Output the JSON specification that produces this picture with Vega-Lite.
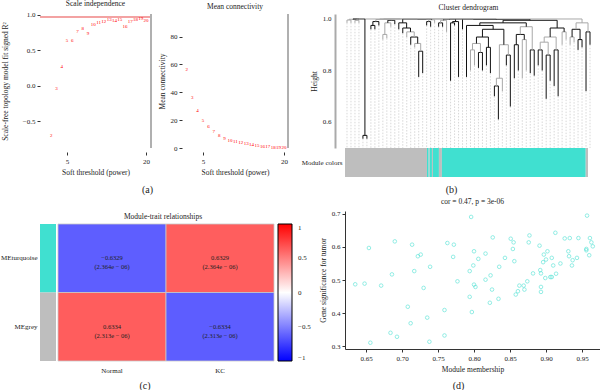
{
  "$schema": "https://vega.github.io/schema/vega-lite/v6.json",
  "padding": {"left": 0, "top": 0, "right": 0, "bottom": 0},
  "background": "white",
  "config": {
    "font": "Liberation Serif",
    "view": {"stroke": null},
    "axis": {"labelFont": "Liberation Serif", "titleFont": "Liberation Serif", "labelFontSize": 7, "titleFontSize": 7.5, "titleFontWeight": "normal", "labelColor": "#222", "titleColor": "#222", "grid": false, "domainColor": "#333", "tickColor": "#333", "tickSize": 3, "labelPadding": 2, "titlePadding": 4},
    "title": {"font": "Liberation Serif", "fontSize": 7.5, "fontWeight": "normal", "color": "#222", "offset": 3},
    "legend": {"labelFont": "Liberation Serif", "labelFontSize": 7, "labelColor": "#222", "labelOverlap": false, "labelSeparation": 0}
  },
  "datasets": {
    "sft": [
      {"power": 2, "fit": -0.70, "k": 57},
      {"power": 3, "fit": -0.03, "k": 37},
      {"power": 4, "fit": 0.28, "k": 27},
      {"power": 5, "fit": 0.65, "k": 20},
      {"power": 6, "fit": 0.64, "k": 15.5},
      {"power": 7, "fit": 0.78, "k": 12.5},
      {"power": 8, "fit": 0.82, "k": 9.5},
      {"power": 9, "fit": 0.75, "k": 7.3},
      {"power": 10, "fit": 0.87, "k": 6},
      {"power": 11, "fit": 0.90, "k": 5},
      {"power": 12, "fit": 0.92, "k": 4.2},
      {"power": 13, "fit": 0.94, "k": 3.3},
      {"power": 14, "fit": 0.93, "k": 2.6},
      {"power": 15, "fit": 0.94, "k": 2},
      {"power": 16, "fit": 0.85, "k": 1.7},
      {"power": 17, "fit": 0.92, "k": 1.3},
      {"power": 18, "fit": 0.95, "k": 1},
      {"power": 19, "fit": 0.96, "k": 0.9},
      {"power": 20, "fit": 0.93, "k": 0.7}
    ],
    "leaves": [
      {"x": 2, "h": 0.985}, {"x": 6, "h": 0.985}, {"x": 10, "h": 0.985}, {"x": 14, "h": 0.985},
      {"x": 18, "h": 0.535}, {"x": 22, "h": 0.535}, {"x": 26, "h": 0.96}, {"x": 30, "h": 0.96},
      {"x": 34, "h": 0.975}, {"x": 38, "h": 0.92}, {"x": 42, "h": 0.925}, {"x": 46, "h": 0.97},
      {"x": 50, "h": 0.98}, {"x": 54, "h": 0.96}, {"x": 58, "h": 0.945}, {"x": 62, "h": 0.93},
      {"x": 66, "h": 0.90}, {"x": 70, "h": 0.89}, {"x": 74, "h": 0.775}, {"x": 78, "h": 0.79},
      {"x": 82, "h": 0.975}, {"x": 86, "h": 0.97}, {"x": 90, "h": 0.985}, {"x": 94, "h": 0.97},
      {"x": 98, "h": 0.97}, {"x": 102, "h": 0.95}, {"x": 106, "h": 0.76}, {"x": 110, "h": 0.975},
      {"x": 114, "h": 0.775}, {"x": 118, "h": 0.96}, {"x": 122, "h": 0.775}, {"x": 126, "h": 0.80},
      {"x": 130, "h": 0.82}, {"x": 134, "h": 0.81}, {"x": 138, "h": 0.80}, {"x": 142, "h": 0.82},
      {"x": 146, "h": 0.79}, {"x": 150, "h": 0.70}, {"x": 154, "h": 0.61}, {"x": 158, "h": 0.72},
      {"x": 162, "h": 0.82}, {"x": 166, "h": 0.66}, {"x": 170, "h": 0.77}, {"x": 174, "h": 0.80},
      {"x": 178, "h": 0.77}, {"x": 182, "h": 0.80}, {"x": 186, "h": 0.79}, {"x": 190, "h": 0.78},
      {"x": 194, "h": 0.82}, {"x": 198, "h": 0.80}, {"x": 202, "h": 0.69}, {"x": 206, "h": 0.76},
      {"x": 210, "h": 0.74}, {"x": 214, "h": 0.70}, {"x": 218, "h": 0.90}, {"x": 222, "h": 0.92},
      {"x": 226, "h": 0.90}, {"x": 230, "h": 0.91}, {"x": 234, "h": 0.88}, {"x": 238, "h": 0.89},
      {"x": 242, "h": 0.72}, {"x": 246, "h": 0.90}
    ],
    "merges": [
      {"xl": 2, "xr": 6, "h": 0.996, "hl": 0.985, "hr": 0.985, "tone": "g"},
      {"xl": 10, "xr": 14, "h": 0.995, "hl": 0.985, "hr": 0.985, "tone": "g"},
      {"xl": 4, "xr": 12, "h": 0.999, "hl": 0.996, "hr": 0.995, "tone": "g"},
      {"xl": 18, "xr": 22, "h": 0.548, "hl": 0.535, "hr": 0.535, "tone": "k"},
      {"xl": 26, "xr": 30, "h": 0.975, "hl": 0.96, "hr": 0.96, "tone": "k"},
      {"xl": 28, "xr": 34, "h": 0.99, "hl": 0.975, "hr": 0.975, "tone": "k"},
      {"xl": 38, "xr": 42, "h": 0.94, "hl": 0.92, "hr": 0.925, "tone": "g"},
      {"xl": 40, "xr": 46, "h": 0.985, "hl": 0.94, "hr": 0.97, "tone": "g"},
      {"xl": 43, "xr": 50, "h": 0.995, "hl": 0.985, "hr": 0.98, "tone": "k"},
      {"xl": 74, "xr": 78, "h": 0.875, "hl": 0.775, "hr": 0.79, "tone": "k"},
      {"xl": 70, "xr": 76, "h": 0.905, "hl": 0.89, "hr": 0.875, "tone": "g"},
      {"xl": 66, "xr": 73, "h": 0.93, "hl": 0.90, "hr": 0.905, "tone": "k"},
      {"xl": 62, "xr": 69.5, "h": 0.95, "hl": 0.93, "hr": 0.93, "tone": "g"},
      {"xl": 58, "xr": 65.75, "h": 0.965, "hl": 0.945, "hr": 0.95, "tone": "k"},
      {"xl": 54, "xr": 61.875, "h": 0.985, "hl": 0.96, "hr": 0.965, "tone": "k"},
      {"xl": 82, "xr": 86, "h": 0.99, "hl": 0.975, "hr": 0.97, "tone": "k"},
      {"xl": 84, "xr": 90, "h": 0.997, "hl": 0.99, "hr": 0.985, "tone": "g"},
      {"xl": 94, "xr": 98, "h": 0.985, "hl": 0.97, "hr": 0.97, "tone": "k"},
      {"xl": 96, "xr": 102, "h": 0.995, "hl": 0.985, "hr": 0.95, "tone": "g"},
      {"xl": 106, "xr": 110, "h": 0.985, "hl": 0.76, "hr": 0.975, "tone": "k"},
      {"xl": 108, "xr": 114, "h": 0.99, "hl": 0.985, "hr": 0.775, "tone": "k"},
      {"xl": 126, "xr": 130, "h": 0.88, "hl": 0.80, "hr": 0.82, "tone": "g"},
      {"xl": 134, "xr": 138, "h": 0.87, "hl": 0.81, "hr": 0.80, "tone": "k"},
      {"xl": 128, "xr": 136, "h": 0.905, "hl": 0.88, "hr": 0.87, "tone": "g"},
      {"xl": 142, "xr": 146, "h": 0.89, "hl": 0.82, "hr": 0.79, "tone": "k"},
      {"xl": 132, "xr": 144, "h": 0.93, "hl": 0.905, "hr": 0.89, "tone": "k"},
      {"xl": 150, "xr": 154, "h": 0.74, "hl": 0.70, "hr": 0.61, "tone": "k"},
      {"xl": 152, "xr": 158, "h": 0.77, "hl": 0.74, "hr": 0.72, "tone": "g"},
      {"xl": 162, "xr": 166, "h": 0.86, "hl": 0.82, "hr": 0.66, "tone": "k"},
      {"xl": 155, "xr": 164, "h": 0.90, "hl": 0.77, "hr": 0.86, "tone": "g"},
      {"xl": 138, "xr": 159.5, "h": 0.96, "hl": 0.93, "hr": 0.90, "tone": "k"},
      {"xl": 122, "xr": 148.75, "h": 0.975, "hl": 0.775, "hr": 0.96, "tone": "k"},
      {"xl": 170, "xr": 174, "h": 0.90, "hl": 0.77, "hr": 0.80, "tone": "k"},
      {"xl": 178, "xr": 182, "h": 0.92, "hl": 0.77, "hr": 0.80, "tone": "g"},
      {"xl": 172, "xr": 180, "h": 0.94, "hl": 0.90, "hr": 0.92, "tone": "k"},
      {"xl": 186, "xr": 190, "h": 0.88, "hl": 0.79, "hr": 0.78, "tone": "k"},
      {"xl": 176, "xr": 188, "h": 0.97, "hl": 0.94, "hr": 0.88, "tone": "g"},
      {"xl": 135.375, "xr": 182, "h": 0.985, "hl": 0.975, "hr": 0.97, "tone": "k"},
      {"xl": 194, "xr": 198, "h": 0.88, "hl": 0.82, "hr": 0.80, "tone": "k"},
      {"xl": 202, "xr": 206, "h": 0.86, "hl": 0.69, "hr": 0.76, "tone": "k"},
      {"xl": 196, "xr": 204, "h": 0.91, "hl": 0.88, "hr": 0.86, "tone": "g"},
      {"xl": 210, "xr": 214, "h": 0.88, "hl": 0.74, "hr": 0.70, "tone": "k"},
      {"xl": 200, "xr": 212, "h": 0.93, "hl": 0.91, "hr": 0.88, "tone": "g"},
      {"xl": 218, "xr": 222, "h": 0.95, "hl": 0.90, "hr": 0.92, "tone": "g"},
      {"xl": 206, "xr": 220, "h": 0.965, "hl": 0.93, "hr": 0.95, "tone": "k"},
      {"xl": 226, "xr": 230, "h": 0.93, "hl": 0.90, "hr": 0.91, "tone": "g"},
      {"xl": 234, "xr": 238, "h": 0.92, "hl": 0.88, "hr": 0.89, "tone": "k"},
      {"xl": 228, "xr": 236, "h": 0.96, "hl": 0.93, "hr": 0.92, "tone": "k"},
      {"xl": 242, "xr": 246, "h": 0.95, "hl": 0.72, "hr": 0.90, "tone": "k"},
      {"xl": 232, "xr": 244, "h": 0.985, "hl": 0.96, "hr": 0.95, "tone": "g"},
      {"xl": 8, "xr": 20, "h": 1.0, "hl": 0.999, "hr": 0.548, "tone": "k"},
      {"xl": 31, "xr": 46.5, "h": 0.998, "hl": 0.99, "hr": 0.995, "tone": "g"},
      {"xl": 57.94, "xr": 87, "h": 0.999, "hl": 0.985, "hr": 0.997, "tone": "k"},
      {"xl": 38.75, "xr": 72.47, "h": 1.0, "hl": 0.998, "hr": 0.999, "tone": "g"},
      {"xl": 14, "xr": 55.61, "h": 1.0, "hl": 1.0, "hr": 1.0, "tone": "g"},
      {"xl": 99, "xr": 111, "h": 0.998, "hl": 0.995, "hr": 0.99, "tone": "k"},
      {"xl": 158.69, "xr": 213, "h": 0.995, "hl": 0.985, "hr": 0.965, "tone": "k"},
      {"xl": 118, "xr": 185.84, "h": 0.998, "hl": 0.96, "hr": 0.995, "tone": "k"},
      {"xl": 105, "xr": 151.92, "h": 0.999, "hl": 0.998, "hr": 0.998, "tone": "k"},
      {"xl": 34.8, "xr": 128.46, "h": 1.0, "hl": 1.0, "hr": 0.999, "tone": "g"},
      {"xl": 81.63, "xr": 238, "h": 1.0, "hl": 1.0, "hr": 0.985, "tone": "g"}
    ],
    "modules": [
      {"x0": 0, "x1": 82.3, "module": "grey", "track": "Module colors"},
      {"x0": 82.3, "x1": 84, "module": "turquoise", "track": "Module colors"},
      {"x0": 84, "x1": 85, "module": "grey", "track": "Module colors"},
      {"x0": 85, "x1": 87.3, "module": "turquoise", "track": "Module colors"},
      {"x0": 87.3, "x1": 88.3, "module": "grey", "track": "Module colors"},
      {"x0": 88.3, "x1": 94.3, "module": "turquoise", "track": "Module colors"},
      {"x0": 94.3, "x1": 97.3, "module": "grey", "track": "Module colors"},
      {"x0": 97.3, "x1": 241.7, "module": "turquoise", "track": "Module colors"},
      {"x0": 241.7, "x1": 244, "module": "grey", "track": "Module colors"}
    ],
    "eigengenes": [
      {"me": "MEturquoise", "module": "turquoise"},
      {"me": "MEgrey", "module": "grey"}
    ],
    "traitcor": [
      {"me": "MEturquoise", "trait": "Normal", "r": -0.6329, "label": "−0.6329\n(2.364e − 06)"},
      {"me": "MEturquoise", "trait": "KC", "r": 0.6329, "label": "0.6329\n(2.364e − 06)"},
      {"me": "MEgrey", "trait": "Normal", "r": 0.6334, "label": "0.6334\n(2.313e − 06)"},
      {"me": "MEgrey", "trait": "KC", "r": -0.6334, "label": "−0.6334\n(2.313e − 06)"}
    ],
    "mmgs": [
      {"mm": 0.635, "gs": 0.487}, {"mm": 0.648, "gs": 0.489}, {"mm": 0.654, "gs": 0.597}, {"mm": 0.656, "gs": 0.310},
      {"mm": 0.671, "gs": 0.483}, {"mm": 0.684, "gs": 0.340}, {"mm": 0.686, "gs": 0.517}, {"mm": 0.690, "gs": 0.617},
      {"mm": 0.693, "gs": 0.328}, {"mm": 0.708, "gs": 0.419}, {"mm": 0.712, "gs": 0.369}, {"mm": 0.714, "gs": 0.607},
      {"mm": 0.717, "gs": 0.527}, {"mm": 0.722, "gs": 0.572}, {"mm": 0.726, "gs": 0.577}, {"mm": 0.730, "gs": 0.476},
      {"mm": 0.735, "gs": 0.386}, {"mm": 0.738, "gs": 0.313}, {"mm": 0.739, "gs": 0.540}, {"mm": 0.759, "gs": 0.409},
      {"mm": 0.759, "gs": 0.332}, {"mm": 0.763, "gs": 0.612}, {"mm": 0.772, "gs": 0.607}, {"mm": 0.771, "gs": 0.570},
      {"mm": 0.777, "gs": 0.496}, {"mm": 0.794, "gs": 0.527}, {"mm": 0.794, "gs": 0.449}, {"mm": 0.796, "gs": 0.691},
      {"mm": 0.797, "gs": 0.403}, {"mm": 0.799, "gs": 0.544}, {"mm": 0.800, "gs": 0.587}, {"mm": 0.800, "gs": 0.486},
      {"mm": 0.802, "gs": 0.479}, {"mm": 0.806, "gs": 0.564}, {"mm": 0.816, "gs": 0.580}, {"mm": 0.816, "gs": 0.501},
      {"mm": 0.822, "gs": 0.431}, {"mm": 0.823, "gs": 0.514}, {"mm": 0.825, "gs": 0.471}, {"mm": 0.826, "gs": 0.629},
      {"mm": 0.834, "gs": 0.443}, {"mm": 0.835, "gs": 0.540}, {"mm": 0.843, "gs": 0.567}, {"mm": 0.851, "gs": 0.625},
      {"mm": 0.854, "gs": 0.594}, {"mm": 0.855, "gs": 0.614}, {"mm": 0.856, "gs": 0.557}, {"mm": 0.858, "gs": 0.456},
      {"mm": 0.861, "gs": 0.466}, {"mm": 0.863, "gs": 0.483}, {"mm": 0.869, "gs": 0.483}, {"mm": 0.870, "gs": 0.471},
      {"mm": 0.874, "gs": 0.496}, {"mm": 0.876, "gs": 0.614}, {"mm": 0.877, "gs": 0.635}, {"mm": 0.882, "gs": 0.520},
      {"mm": 0.891, "gs": 0.604}, {"mm": 0.892, "gs": 0.530}, {"mm": 0.893, "gs": 0.520}, {"mm": 0.893, "gs": 0.479},
      {"mm": 0.893, "gs": 0.464}, {"mm": 0.896, "gs": 0.554}, {"mm": 0.897, "gs": 0.577}, {"mm": 0.899, "gs": 0.506},
      {"mm": 0.900, "gs": 0.562}, {"mm": 0.902, "gs": 0.587}, {"mm": 0.906, "gs": 0.509}, {"mm": 0.908, "gs": 0.509},
      {"mm": 0.908, "gs": 0.567}, {"mm": 0.910, "gs": 0.544}, {"mm": 0.913, "gs": 0.643}, {"mm": 0.914, "gs": 0.519},
      {"mm": 0.920, "gs": 0.550}, {"mm": 0.926, "gs": 0.626}, {"mm": 0.931, "gs": 0.587}, {"mm": 0.932, "gs": 0.572},
      {"mm": 0.933, "gs": 0.627}, {"mm": 0.936, "gs": 0.544}, {"mm": 0.937, "gs": 0.560}, {"mm": 0.943, "gs": 0.567},
      {"mm": 0.945, "gs": 0.627}, {"mm": 0.956, "gs": 0.590}, {"mm": 0.956, "gs": 0.594}, {"mm": 0.957, "gs": 0.695},
      {"mm": 0.960, "gs": 0.575}, {"mm": 0.961, "gs": 0.627}, {"mm": 0.963, "gs": 0.614}, {"mm": 0.965, "gs": 0.602}
    ],
    "none": []
  },
  "spacing": 3,
  "resolve": {"scale": {"color": "independent"}},
  "vconcat": [
    {
      "columns": 5,
      "bounds": "flush",
      "spacing": 0,
      "resolve": {"scale": {"color": "independent"}},
      "concat": [
        {
          "width": 111, "height": 134,
          "title": {"text": "Scale independence"},
          "data": {"name": "sft"},
          "layer": [
            {"mark": {"type": "rule", "color": "#f4a3a3", "strokeWidth": 0.8}, "encoding": {"y": {"datum": 0.97}}},
            {"mark": {"type": "rule", "color": "#b0b0b0", "strokeWidth": 1.5}, "encoding": {"x": {"datum": 20.95}}},
            {
              "mark": {"type": "text", "color": "#ff0000", "fontSize": 5},
              "encoding": {
                "x": {"field": "power", "type": "quantitative", "title": "Soft threshold (power)", "scale": {"domain": [-0.13, 20.95], "nice": false, "zero": false}, "axis": {"values": [5, 10, 15, 20], "domain": false, "offset": 4}},
                "y": {"field": "fit", "type": "quantitative", "title": "Scale-free topology model fit signed R²", "scale": {"domain": [-0.882, 1.014], "nice": false, "zero": false}, "axis": {"values": [-0.5, 0, 0.5, 1], "format": ".1f", "domain": false, "titlePadding": 13}},
                "text": {"field": "power", "type": "quantitative"}
              }
            }
          ]
        },
        {"width": 31, "height": 134, "data": {"name": "none"}, "mark": "point"},
        {
          "width": 106, "height": 134,
          "title": {"text": "Mean connectivity"},
          "data": {"name": "sft"},
          "layer": [
            {"mark": {"type": "rule", "color": "#b0b0b0", "strokeWidth": 1.5}, "encoding": {"x": {"datum": 20.74}}},
            {
              "mark": {"type": "text", "color": "#ff0000", "fontSize": 5},
              "encoding": {
                "x": {"field": "power", "type": "quantitative", "title": "Soft threshold (power)", "scale": {"domain": [1.11, 20.74], "nice": false, "zero": false}, "axis": {"values": [5, 10, 15, 20], "domain": false, "offset": 4}},
                "y": {"field": "k", "type": "quantitative", "title": "Mean connectivity", "scale": {"domain": [0, 96.28], "nice": false, "zero": false}, "axis": {"values": [0, 20, 40, 60, 80], "domain": false}},
                "text": {"field": "power", "type": "quantitative"}
              }
            }
          ]
        },
        {"width": 57, "height": 134, "data": {"name": "none"}, "mark": "point"},
        {
          "width": 247, "height": 134,
          "title": {"text": "Cluster dendrogram"},
          "layer": [
            {
              "data": {"name": "leaves"},
              "mark": {"type": "rule", "color": "#bdbdbd", "strokeWidth": 0.6, "strokeDash": [1.5, 1.5]},
              "encoding": {
                "x": {"field": "x", "type": "quantitative", "scale": {"domain": [0, 248], "nice": false, "zero": false}, "axis": null},
                "y": {"field": "h", "type": "quantitative", "title": "Height", "scale": {"domain": [0.499, 1.0194], "nice": false, "zero": false}, "axis": {"values": [0.6, 0.7, 0.8, 0.9, 1.0], "format": ".1f", "ticks": false, "offset": 10, "domainColor": "#aaaaaa", "domainWidth": 2, "labelPadding": 4}},
                "y2": {"datum": 0.499}
              }
            },
            {
              "data": {"name": "merges"},
              "mark": {"type": "rule", "strokeWidth": 1},
              "encoding": {
                "x": {"field": "xl", "type": "quantitative"},
                "x2": {"field": "xr"},
                "y": {"field": "h", "type": "quantitative", "title": "Height"},
                "color": {"field": "tone", "type": "nominal", "scale": {"domain": ["k", "g"], "range": ["#111111", "#a8a8a8"]}, "legend": null}
              }
            },
            {
              "data": {"name": "merges"},
              "mark": {"type": "rule", "strokeWidth": 1},
              "encoding": {
                "x": {"field": "xl", "type": "quantitative"},
                "y": {"field": "hl", "type": "quantitative", "title": "Height"},
                "y2": {"field": "h"},
                "color": {"field": "tone", "type": "nominal", "legend": null}
              }
            },
            {
              "data": {"name": "merges"},
              "mark": {"type": "rule", "strokeWidth": 1},
              "encoding": {
                "x": {"field": "xr", "type": "quantitative"},
                "y": {"field": "hr", "type": "quantitative", "title": "Height"},
                "y2": {"field": "h"},
                "color": {"field": "tone", "type": "nominal", "legend": null}
              }
            }
          ]
        },
        {"width": 111, "height": 29, "data": {"name": "none"}, "mark": "point", "title": {"text": "(a)", "orient": "bottom", "fontSize": 10, "offset": 8, "dx": 52}},
        {"width": 31, "height": 29, "data": {"name": "none"}, "mark": "point"},
        {"width": 106, "height": 29, "data": {"name": "none"}, "mark": "point"},
        {"width": 57, "height": 29, "data": {"name": "none"}, "mark": "point"},
        {
          "width": 247, "height": 29,
          "title": {"text": "(b)", "orient": "bottom", "fontSize": 10, "offset": 8, "dx": -17},
          "data": {"name": "modules"},
          "mark": {"type": "rect"},
          "encoding": {
            "x": {"field": "x0", "type": "quantitative", "scale": {"domain": [0, 248], "nice": false, "zero": false}, "axis": null},
            "x2": {"field": "x1"},
            "y": {"field": "track", "type": "nominal", "title": null, "axis": {"ticks": false, "domain": false, "labelPadding": 3}},
            "color": {"field": "module", "type": "nominal", "scale": {"domain": ["grey", "turquoise"], "range": ["#bebebe", "#40e0d0"]}, "legend": null}
          }
        }
      ]
    },
    {
      "columns": 5,
      "bounds": "flush",
      "spacing": 0,
      "resolve": {"scale": {"color": "independent"}},
      "concat": [
        {
          "width": 16, "height": 150,
          "data": {"name": "eigengenes"},
          "mark": {"type": "rect"},
          "encoding": {
            "y": {"field": "me", "type": "nominal", "sort": ["MEturquoise", "MEgrey"], "title": null, "scale": {"paddingInner": 0, "paddingOuter": 0.0949, "align": 1}, "axis": {"ticks": false, "domain": false, "labelPadding": 3}},
            "color": {"field": "module", "type": "nominal", "scale": {"domain": ["grey", "turquoise"], "range": ["#bebebe", "#40e0d0"]}, "legend": null}
          }
        },
        {"width": 2, "height": 150, "data": {"name": "none"}, "mark": "point"},
        {
          "width": 216, "height": 150,
          "title": {"text": "Module-trait relationships", "offset": 3, "dx": -3, "dy": 12},
          "data": {"name": "traitcor"},
          "layer": [
            {
              "mark": {"type": "rect", "stroke": "#c8c8c8", "strokeWidth": 0.8},
              "encoding": {
                "x": {"field": "trait", "type": "nominal", "sort": ["Normal", "KC"], "title": null, "axis": {"labelAngle": 0, "ticks": false, "domain": false, "labelPadding": 5}},
                "y": {"field": "me", "type": "nominal", "sort": ["MEturquoise", "MEgrey"], "scale": {"paddingInner": 0, "paddingOuter": 0.0949, "align": 1}, "axis": null},
                "color": {
                  "field": "r", "type": "quantitative",
                  "scale": {"domain": [-1, 0, 1], "range": ["#0000ff", "#ffffff", "#ff0000"], "interpolate": "rgb"},
                  "legend": {"title": " ", "titleFontSize": 1, "titlePadding": 12, "gradientLength": 137, "gradientThickness": 14, "values": [-1, -0.5, 0, 0.5, 1], "tickCount": 5, "format": ".1~f", "labelOverlap": false, "labelSeparation": 0, "gradientStrokeColor": "#000", "gradientStrokeWidth": 1, "offset": 4, "labelOffset": 6, "direction": "vertical"}
                }
              }
            },
            {
              "mark": {"type": "text", "lineBreak": "\n", "fontSize": 6.5, "color": "#222", "lineHeight": 9},
              "encoding": {
                "x": {"field": "trait", "type": "nominal", "sort": ["Normal", "KC"]},
                "y": {"field": "me", "type": "nominal", "sort": ["MEturquoise", "MEgrey"]},
                "text": {"field": "label", "type": "nominal"}
              }
            }
          ]
        },
        {"width": 71, "height": 150, "data": {"name": "none"}, "mark": "point"},
        {
          "width": 255, "height": 138,
          "title": {"text": "cor = 0.47, p = 3e-06", "offset": 4},
          "data": {"name": "mmgs"},
          "mark": {"type": "point", "shape": "circle", "filled": false, "color": "#40e0d0", "size": 13, "strokeWidth": 0.8},
          "encoding": {
            "x": {"field": "mm", "type": "quantitative", "title": "Module membership", "scale": {"domain": [0.6208, 0.975], "nice": false, "zero": false}, "axis": {"values": [0.65, 0.7, 0.75, 0.8, 0.85, 0.9, 0.95], "format": ".2f"}},
            "y": {"field": "gs", "type": "quantitative", "title": "Gene significance for tumor", "scale": {"domain": [0.291, 0.709], "nice": false, "zero": false}, "axis": {"values": [0.3, 0.4, 0.5, 0.6, 0.7], "format": ".1f"}}
          }
        },
        {"width": 16, "height": 1, "data": {"name": "none"}, "mark": "point"},
        {"width": 2, "height": 1, "data": {"name": "none"}, "mark": "point"},
        {"width": 216, "height": 1, "data": {"name": "none"}, "mark": "point", "title": {"text": "(c)", "orient": "bottom", "fontSize": 10, "offset": 19, "dx": -21}},
        {"width": 71, "height": 1, "data": {"name": "none"}, "mark": "point"},
        {"width": 255, "height": 1, "data": {"name": "none"}, "mark": "point", "title": {"text": "(d)", "orient": "bottom", "fontSize": 10, "offset": 19, "dx": -14}}
      ]
    }
  ]
}
